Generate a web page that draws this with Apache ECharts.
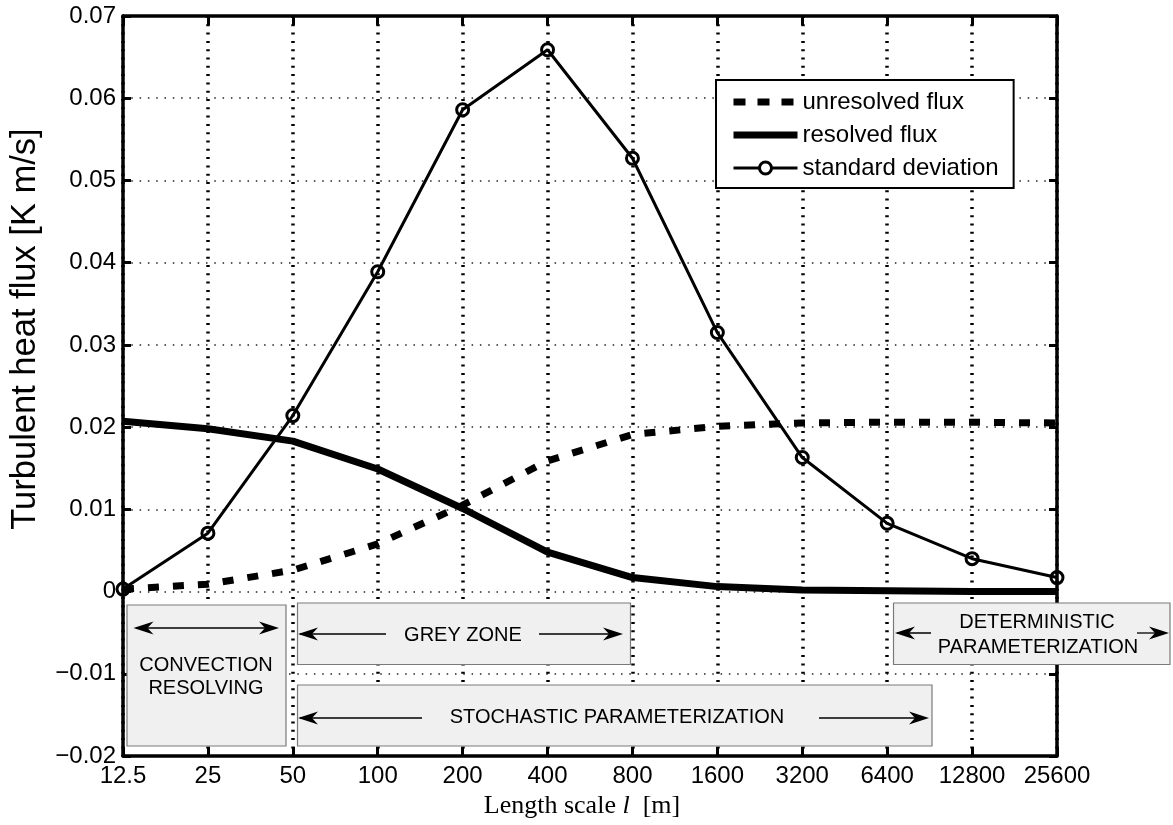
<!DOCTYPE html>
<html><head><meta charset="utf-8">
<script src="https://cdn.jsdelivr.net/npm/echarts@6/dist/echarts.min.js"></script>
<style>html,body{margin:0;padding:0;background:#fff}#c{width:1173px;height:825px}</style>
</head><body><div id="c"></div>
<script>
// ---- data ----
const categories = ['12.5','25','50','100','200','400','800','1600','3200','6400','12800','25600'];
const unresolvedFlux = [0.0003,0.0009,0.0026,0.0058,0.0105,0.0159,0.0191,0.0201,0.0205,0.0206,0.0206,0.0205];
const resolvedFlux   = [0.0207,0.0198,0.0183,0.0149,0.0101,0.0048,0.0017,0.0006,0.0002,0.0001,0.0000,0.0000];
const stdDeviation   = [0.0003,0.0071,0.0214,0.0389,0.0586,0.0659,0.0527,0.0315,0.0163,0.0083,0.0040,0.0017];
const seriesNames = ['unresolved flux','resolved flux','standard deviation'];
const yMin = -0.02, yMax = 0.07, yStep = 0.01;

const SANS = '"Liberation Sans", Arial, Helvetica, sans-serif';
const SERIF = '"Liberation Serif", "DejaVu Serif", serif';
const chart = echarts.init(document.getElementById('c'), null, {renderer:'canvas'});

function yFmt(v){
  const r = Math.round(v*100)/100;
  if (r === 0) return '0';
  return (r < 0 ? '\u2212' : '') + Math.abs(r).toFixed(2);
}

// ---- annotation helpers (decorations, pixel space) ----
function box(x1,y1,x2,y2){return {type:'rect',z:100,shape:{x:x1,y:y1,width:x2-x1,height:y2-y1},style:{fill:'#f0f0f0',stroke:'#7a7a7a',lineWidth:1.2}};}
function hl(x1,x2,y){return {type:'line',z:101,shape:{x1:x1,y1:y,x2:x2,y2:y},style:{stroke:'#000',lineWidth:1.3}};}
function head(tx,ty,dir){const L=20,W=6.5,I=6;return {type:'polygon',z:102,shape:{points:[[tx,ty],[tx+dir*L,ty-W],[tx+dir*(L-I),ty],[tx+dir*L,ty+W]]},style:{fill:'#000'}};}
function txt(x,y,s){return {type:'text',z:103,x:x,y:y,style:{text:s,fill:'#000',fontSize:20,fontFamily:SANS,align:'center',verticalAlign:'middle'}};}

const graphics = [
  box(127,605,286,746), hl(136,276,628), head(133.5,628,1), head(279,628,-1),
  txt(206,665,'CONVECTION'), txt(206,688,'RESOLVING'),
  box(297.5,603,630.5,664.5), hl(300,386,634), head(298,634,1), hl(539,620,634), head(623,634,-1),
  txt(463,635,'GREY ZONE'),
  box(297.5,685,932,746), hl(300,422,718), head(298,718,1), hl(819,926,718), head(929,718,-1),
  txt(617,717,'STOCHASTIC PARAMETERIZATION'),
  box(893.5,603,1170,664.5), head(895,633,1), hl(897,931,633), hl(1137,1166,633), head(1169,633,-1),
  txt(1037,622,'DETERMINISTIC'), txt(1038,647,'PARAMETERIZATION')
];

const axisLineStyle = {color:'#000', width:3.5};
const noSymbol = {color:'rgba(0,0,0,0)', borderColor:'rgba(0,0,0,0)', borderWidth:0, opacity:0};
const option = {
  animation:false,
  backgroundColor:'#fff',
  grid:{left:122, right:116, top:16, bottom:69, containLabel:false},
  legend:{
    orient:'vertical', left:716, top:80, padding:[10,15,8,14], itemGap:9,
    itemWidth:64, itemHeight:15, backgroundColor:'#fff', borderColor:'#000', borderWidth:2,
    textStyle:{fontSize:24, color:'#000', fontFamily:SANS},
    data:[
      {name:seriesNames[0], lineStyle:{width:7, type:[12,12], color:'#000'}, itemStyle:noSymbol},
      {name:seriesNames[1], lineStyle:{width:7, color:'#000'}, itemStyle:noSymbol},
      {name:seriesNames[2], lineStyle:{width:3, color:'#000'}, itemStyle:{color:'#fff', borderColor:'#000', borderWidth:3}}
    ]
  },
  xAxis:[{
    type:'category', data:categories, boundaryGap:false, position:'bottom',
    axisLine:{onZero:false, lineStyle:axisLineStyle},
    axisTick:{inside:true, length:9, lineStyle:{width:3, color:'#000'}, interval:0},
    axisLabel:{fontSize:24, color:'#000', fontFamily:SANS, margin:8, interval:0},
    splitLine:{show:true, interval:0, lineStyle:{color:'#000', width:3.5, type:[2,6.3]}},
    name:'{a|Length scale }{b|l}{a|  [m]}', nameLocation:'middle', nameGap:33,
    nameTextStyle:{padding:[0,16,0,0], rich:{
      a:{fontSize:26, fontFamily:SERIF, color:'#000'},
      b:{fontSize:26, fontStyle:'italic', fontFamily:SERIF, color:'#000'}
    }}
  },{
    type:'category', data:categories, boundaryGap:false, position:'top',
    axisLine:{onZero:false, lineStyle:axisLineStyle},
    axisTick:{inside:true, length:9, lineStyle:{width:3, color:'#000'}, interval:0},
    axisLabel:{show:false}, splitLine:{show:false}
  }],
  yAxis:[{
    type:'value', min:yMin, max:yMax, interval:yStep, position:'left',
    axisLine:{show:true, onZero:false, lineStyle:axisLineStyle},
    axisTick:{show:true, inside:true, length:8, lineStyle:{width:3, color:'#000'}},
    axisLabel:{fontSize:24, color:'#000', fontFamily:SANS, margin:7, formatter:yFmt},
    splitLine:{show:true, lineStyle:{color:'#222', width:1.5, type:[1.5,6.8]}},
    name:'Turbulent heat flux [K m/s]', nameLocation:'middle', nameGap:80,
    nameTextStyle:{fontSize:34.5, color:'#000', fontFamily:SANS, padding:[0,0,0,114]}
  },{
    type:'value', min:yMin, max:yMax, interval:yStep, position:'right',
    axisLine:{show:true, onZero:false, lineStyle:axisLineStyle},
    axisTick:{show:true, inside:true, length:8, lineStyle:{width:3, color:'#000'}},
    axisLabel:{show:false}, splitLine:{show:false}
  }],
  series:[
    {name:seriesNames[0], type:'line', data:unresolvedFlux, symbol:'none', clip:false, z:3,
     lineStyle:{color:'#000', width:7, type:[11,14], cap:'butt'}, itemStyle:{color:'#000'}},
    {name:seriesNames[1], type:'line', data:resolvedFlux, symbol:'none', clip:false, z:4,
     lineStyle:{color:'#000', width:7}, itemStyle:{color:'#000'}},
    {name:seriesNames[2], type:'line', data:stdDeviation, symbol:'circle', symbolSize:12, clip:false, z:5,
     lineStyle:{color:'#000', width:3},
     itemStyle:{color:'rgba(0,0,0,0)', borderColor:'#000', borderWidth:3}}
  ],
  graphic:{elements:graphics}
};
chart.setOption(option);
</script>
</body></html>
